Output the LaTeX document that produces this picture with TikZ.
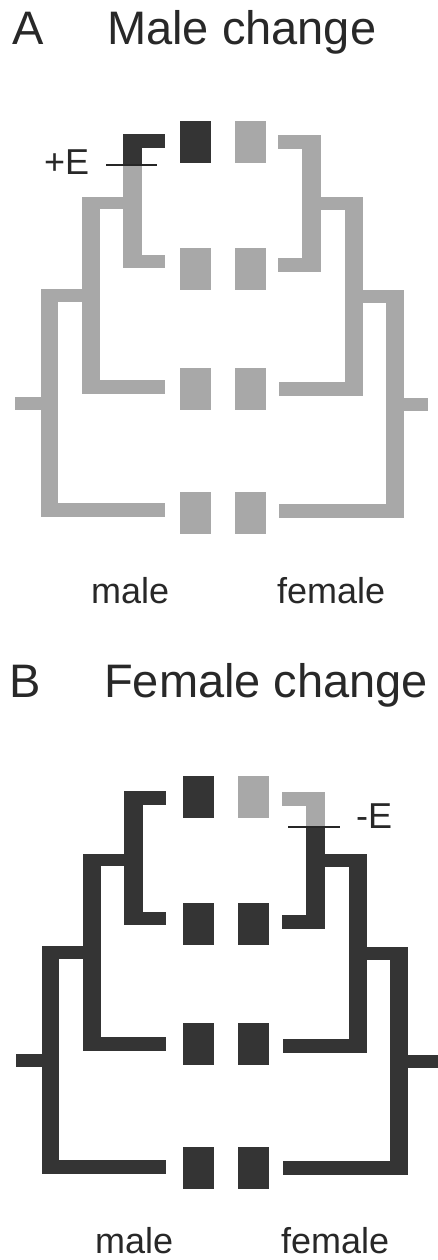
\documentclass[tikz,border=0pt]{standalone}
\usepackage{fontspec}
\setmainfont{Liberation Sans}
\definecolor{lgrey}{RGB}{168,168,168}
\definecolor{dgrey}{RGB}{52,52,52}
\definecolor{txtcol}{RGB}{40,40,40}
\newcommand\mytreeL[1]{%
 \fill[#1] (123,134) rectangle (165,148);
 \fill[#1] (123,255) rectangle (165,268);
 \fill[#1] (123,134) rectangle (142,268);
 \fill[#1] (82,197) rectangle (123,209);
 \fill[#1] (82,197) rectangle (100,394);
 \fill[#1] (82,380) rectangle (165,394);
 \fill[#1] (41,289) rectangle (82,302);
 \fill[#1] (41,289) rectangle (58,517);
 \fill[#1] (41,503) rectangle (165,517);
 \fill[#1] (15,397) rectangle (41,410);
}
\newcommand\mytreeR[2]{%
 \fill[#1] (278,135) rectangle (321,149);
 \fill[#1] (302,135) rectangle (321,272);
 \fill[#1] (278,258) rectangle (321,272);
 \fill[#1] (321,197) rectangle (363,210);
 \fill[#1] (345,197) rectangle (363,396);
 \fill[#1] (279,382) rectangle (363,396);
 \fill[#1] (363,290) rectangle (404,303);
 \fill[#1] (386,290) rectangle (404,518);
 \fill[#1] (279,504) rectangle (404,518);
 \fill[#1] (404,398) rectangle (#2,411);
}
\tikzset{
 taxon/.style={rectangle, draw=none, inner sep=0pt, minimum width=31pt, minimum height=42pt},
 title/.style={anchor=base west, inner sep=0pt, text=txtcol, font=\fontsize{47}{50}\selectfont},
 label/.style={anchor=base west, inner sep=0pt, text=txtcol, font=\fontsize{36}{40}\selectfont},
 marker/.style={draw=black!85, line width=2.2pt}
}
\begin{document}
\begin{tikzpicture}[x=1pt,y=-1pt]
\useasboundingbox[fill=white] (0,0) rectangle (438,1260);
% ---------------- Panel A ----------------
\node[title] (tA) at (12,45) {A};
\node[title] (tAm) at (107,45) {Male change};
\mytreeL{lgrey}
\mytreeR{lgrey}{428}
\fill[dgrey] (123,134) rectangle (165,148);
\fill[dgrey] (123,134) rectangle (142,165);
\coordinate (mA1) at (106,165);
\coordinate (mA2) at (157,165);
\draw[marker] (mA1) -- (mA2);
\node[label] (pE) at (44,175) {+E};
\node[taxon, fill=dgrey] (a11) at (195.5,142) {};
\node[taxon, fill=lgrey] (a12) at (250.5,142) {};
\node[taxon, fill=lgrey] (a21) at (195.5,268.5) {};
\node[taxon, fill=lgrey] (a22) at (250.5,268.5) {};
\node[taxon, fill=lgrey] (a31) at (195.5,389) {};
\node[taxon, fill=lgrey] (a32) at (250.5,389) {};
\node[taxon, fill=lgrey] (a41) at (195.5,513) {};
\node[taxon, fill=lgrey] (a42) at (250.5,513) {};
\node[label] (mlA) at (91,603) {male};
\node[label] (fmA) at (277,603) {female};
% ---------------- Panel B ----------------
\node[title] (tB) at (9,697) {B};
\node[title] (tBf) at (104,697) {Female change};
\begin{scope}[shift={(1,657)}]
 \mytreeL{dgrey}
\end{scope}
\begin{scope}[shift={(4,657)}]
 \mytreeR{dgrey}{434}
 \fill[lgrey] (278,135) rectangle (321,149);
 \fill[lgrey] (302,135) rectangle (321,170);
 \coordinate (mB1) at (284,170);
 \coordinate (mB2) at (336,170);
 \draw[marker] (mB1) -- (mB2);
\end{scope}
\node[label] (mE) at (356,828) {-E};
\begin{scope}[shift={(3,655)}]
 \node[taxon, fill=dgrey] (b11) at (195.5,142) {};
 \node[taxon, fill=lgrey] (b12) at (250.5,142) {};
 \node[taxon, fill=dgrey] (b21) at (195.5,268.5) {};
 \node[taxon, fill=dgrey] (b22) at (250.5,268.5) {};
 \node[taxon, fill=dgrey] (b31) at (195.5,389) {};
 \node[taxon, fill=dgrey] (b32) at (250.5,389) {};
 \node[taxon, fill=dgrey] (b41) at (195.5,513) {};
 \node[taxon, fill=dgrey] (b42) at (250.5,513) {};
\end{scope}
\node[label] (mlB) at (95,1253) {male};
\node[label] (fmB) at (281,1253) {female};
\end{tikzpicture}
\end{document}
